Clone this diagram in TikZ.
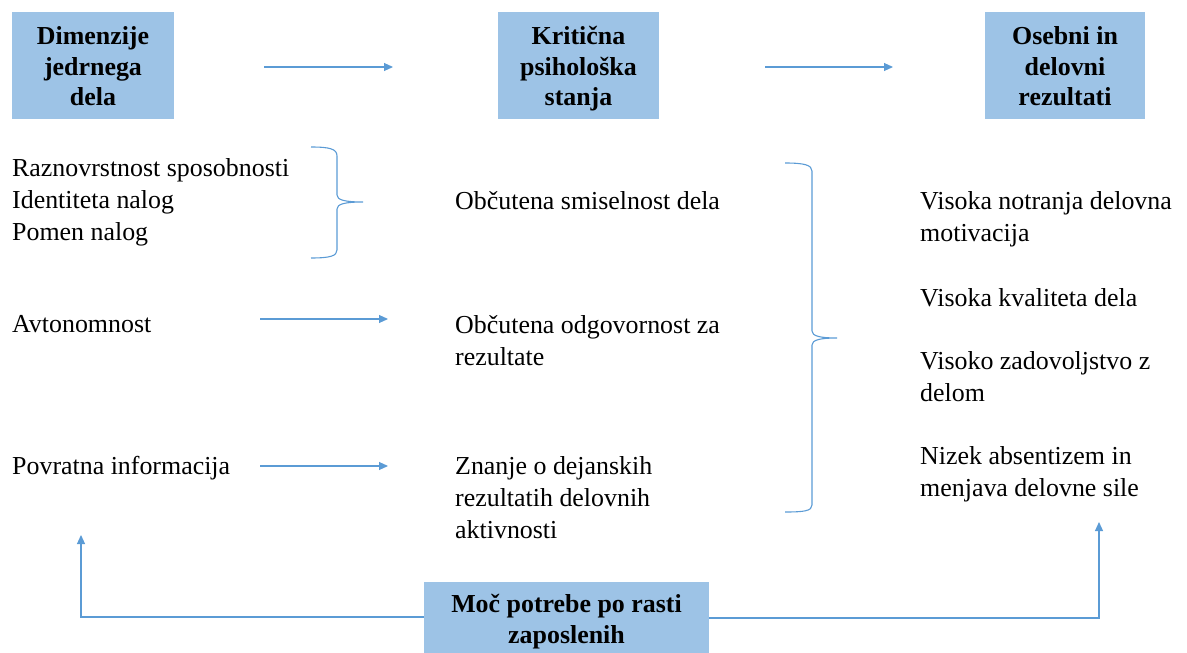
\documentclass[tikz,border=0pt]{standalone}
\usepackage{fontspec}
\setmainfont{Liberation Serif}
\usetikzlibrary{arrows.meta}
\definecolor{boxfill}{RGB}{157,195,230}
\definecolor{linkblue}{RGB}{91,155,213}
\begin{document}
\begin{tikzpicture}[x=1bp,y=-1bp,
  headbox/.style={fill=boxfill,draw=none,inner sep=0pt},
  headtext/.style={anchor=north,inner sep=0pt,align=center,
    font=\fontsize{26}{31}\selectfont\bfseries},
  item/.style={anchor=north west,inner sep=0pt,align=left,
    font=\fontsize{26}{32.5}\selectfont},
  link/.style={draw=linkblue,line width=1.1pt,-{Triangle[length=9bp,width=8bp]}},
  bracket/.style={draw=linkblue,line width=1.1pt}]
\useasboundingbox (0,0) rectangle (1187,653);

% column headings (box, then its text with the first baseline fixed by a strut)
\node[headbox,minimum width=162bp,minimum height=107bp] (dim) at (93,65.5) {};
\node[headtext] (dimtxt) at (93,22.3) {\strut Dimenzije\\jedrnega\\dela};
\node[headbox,minimum width=161bp,minimum height=107bp] (krit) at (578.5,65.5) {};
\node[headtext] (krittxt) at (578.5,22.3) {\strut Kritična\\psihološka\\stanja};
\node[headbox,minimum width=160bp,minimum height=107bp] (rez) at (1065,65.5) {};
\node[headtext] (reztxt) at (1065,22.3) {\strut Osebni in\\delovni\\rezultati};
\node[headbox,minimum width=285bp,minimum height=71bp] (moc) at (566.5,617.5) {};
\node[headtext] (moctxt) at (566.5,590.3) {\strut Moč potrebe po rasti\\zaposlenih};

% arrows between headings
\coordinate (a1s) at (264,67); \coordinate (a1e) at (393,67);
\coordinate (a2s) at (765,67); \coordinate (a2e) at (893,67);
\draw[link] (a1s) -- (a1e);
\draw[link] (a2s) -- (a2e);

% job dimensions
\node[item] (skills) at (12,158) {Raznovrstnost sposobnosti\\Identiteta nalog\\Pomen nalog};
\node[item] (auto) at (12,315) {Avtonomnost};
\node[item] (feed) at (12,456) {Povratna informacija};

% psychological states
\node[item] (mean) at (455,191) {Občutena smiselnost dela};
\node[item] (resp) at (455,315) {Občutena odgovornost za\\rezultate};
\node[item] (know) at (455,456) {Znanje o dejanskih\\rezultatih delovnih\\aktivnosti};

% outcomes
\node[item] (motiv) at (920,191) {Visoka notranja delovna\\motivacija};
\node[item] (qual) at (920,288) {Visoka kvaliteta dela};
\node[item] (sat) at (920,351) {Visoko zadovoljstvo z\\delom};
\node[item] (abs) at (920,446) {Nizek absentizem in\\menjava delovne sile};

% arrows from single dimensions to states
\coordinate (b1s) at (260,319); \coordinate (b1e) at (388,319);
\coordinate (b2s) at (260,466); \coordinate (b2e) at (388,466);
\draw[link] (b1s) -- (b1e);
\draw[link] (b2s) -- (b2e);

% braces
\draw[bracket] (311,147) .. controls (330,147) and (337,149) .. (337,156)
  -- (337,195) .. controls (337,200) and (345,202) .. (363,202)
  .. controls (345,202) and (337,204) .. (337,209)
  -- (337,250) .. controls (337,256) and (330,258) .. (311,258);
\draw[bracket] (785,163) .. controls (804,163) and (812,165) .. (812,171)
  -- (812,331) .. controls (812,336) and (820,338) .. (837,338)
  .. controls (820,338) and (812,340) .. (812,345)
  -- (812,505) .. controls (812,511) and (804,512) .. (785,512);

% moderator links
\coordinate (lft) at (81,535);
\coordinate (rgt) at (1099,522);
\draw[link] (moc.west |- 0,617) -| (lft);
\draw[link] (moc.east |- 0,618) -| (rgt);
\end{tikzpicture}
\end{document}
